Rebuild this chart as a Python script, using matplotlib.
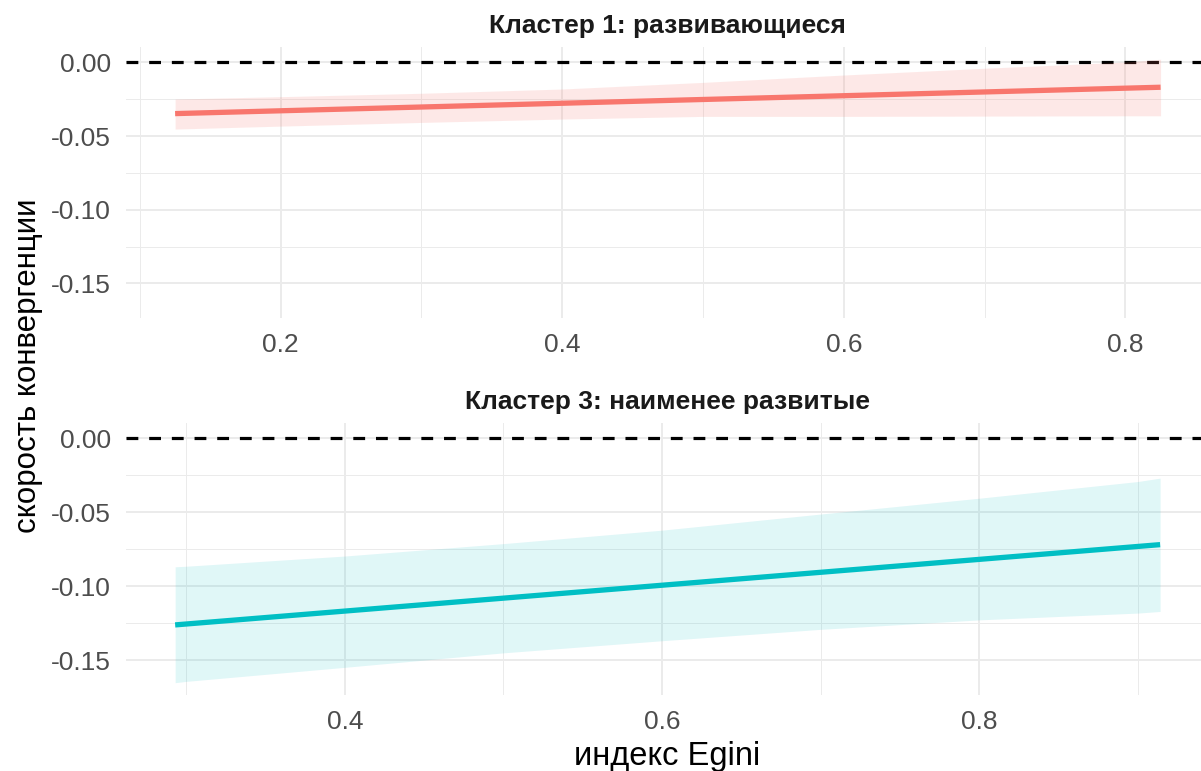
import matplotlib
matplotlib.use('Agg')
import matplotlib.pyplot as plt
from matplotlib.ticker import MultipleLocator, FormatStrFormatter

plt.rcParams['font.family'] = ['Liberation Sans', 'DejaVu Sans']

# Кластер 1: развивающиеся
c1_title = "Кластер 1: развивающиеся"
c1_x = [0.125, 0.825]
c1_fit = [-0.0347, -0.0168]
c1_band_x = [0.125, 0.2, 0.3, 0.4, 0.5, 0.6, 0.7, 0.8, 0.825]
c1_upper = [-0.0248, -0.0232, -0.0209, -0.0180, -0.0135, -0.0085, -0.0039, 0.0003, 0.0022]
c1_lower = [-0.0452, -0.0432, -0.0407, -0.0384, -0.0366, -0.0366, -0.0364, -0.0362, -0.0362]

# Кластер 3: наименее развитые
c3_title = "Кластер 3: наименее развитые"
c3_x = [0.293, 0.914]
c3_fit = [-0.1261, -0.0718]
c3_band_x = [0.293, 0.3, 0.4, 0.5, 0.6, 0.7, 0.8, 0.9, 0.914]
c3_upper = [-0.0868, -0.0864, -0.0795, -0.0711, -0.0620, -0.0511, -0.0404, -0.0291, -0.0268]
c3_lower = [-0.1652, -0.1643, -0.1548, -0.1450, -0.1368, -0.1291, -0.1227, -0.1181, -0.1170]

y_lim = (-0.1735, 0.0105)

fig = plt.figure(figsize=(12.01, 7.71), dpi=100, facecolor="white")
ax1 = fig.add_axes([0.1049, 0.5875, 0.902, 0.3515])
ax3 = fig.add_axes([0.1049, 0.0986, 0.902, 0.3528])


def panel(ax, title, x, fit, bx, up, lo, color, xlim, alpha):
    ax.set_facecolor("white")
    ax.axhline(0, color="black", lw=2.3, dashes=(3.7, 3.4), zorder=2)
    ax.fill_between(bx, lo, up, color=color, alpha=alpha, lw=0, zorder=3)
    ax.plot(x, fit, color=color, lw=3.8, solid_capstyle="butt", zorder=4)
    ax.set_xlim(*xlim)
    ax.set_ylim(*y_lim)
    ax.xaxis.set_major_locator(MultipleLocator(0.2))
    ax.xaxis.set_minor_locator(MultipleLocator(0.1))
    ax.yaxis.set_major_locator(MultipleLocator(0.05))
    ax.yaxis.set_minor_locator(MultipleLocator(0.025))
    ax.xaxis.set_major_formatter(FormatStrFormatter("%.1f"))
    ax.yaxis.set_major_formatter(FormatStrFormatter("%.2f"))
    ax.grid(which="major", color="#EBEBEB", lw=1.4, zorder=0)
    ax.grid(which="minor", color="#EBEBEB", lw=0.7, zorder=0)
    ax.set_axisbelow(True)
    for s in ax.spines.values():
        s.set_visible(False)
    ax.tick_params(which="both", length=0)
    ax.tick_params(axis="x", pad=11, labelsize=19, labelcolor="#4D4D4D")
    ax.tick_params(axis="y", pad=11, labelsize=19, labelcolor="#4D4D4D")
    ax.set_title(title, fontsize=19, fontweight="bold", color="#1A1A1A", pad=10)


panel(ax1, c1_title, c1_x, c1_fit, c1_band_x, c1_upper, c1_lower,
      "#F8766D", (0.0901, 0.8596), 0.16)
panel(ax3, c3_title, c3_x, c3_fit, c3_band_x, c3_upper, c3_lower,
      "#00BFC4", (0.262, 0.945), 0.12)

fig.text(0.0235, 0.526, "скорость конвергенции", rotation=90,
         ha="center", va="center", fontsize=22.5, color="black")
fig.text(0.5554, 0.0078, "индекс Egini", ha="center", va="baseline",
         fontsize=23.5, color="black")

plt.savefig("out.png", dpi=100, facecolor="white")
plt.close()
